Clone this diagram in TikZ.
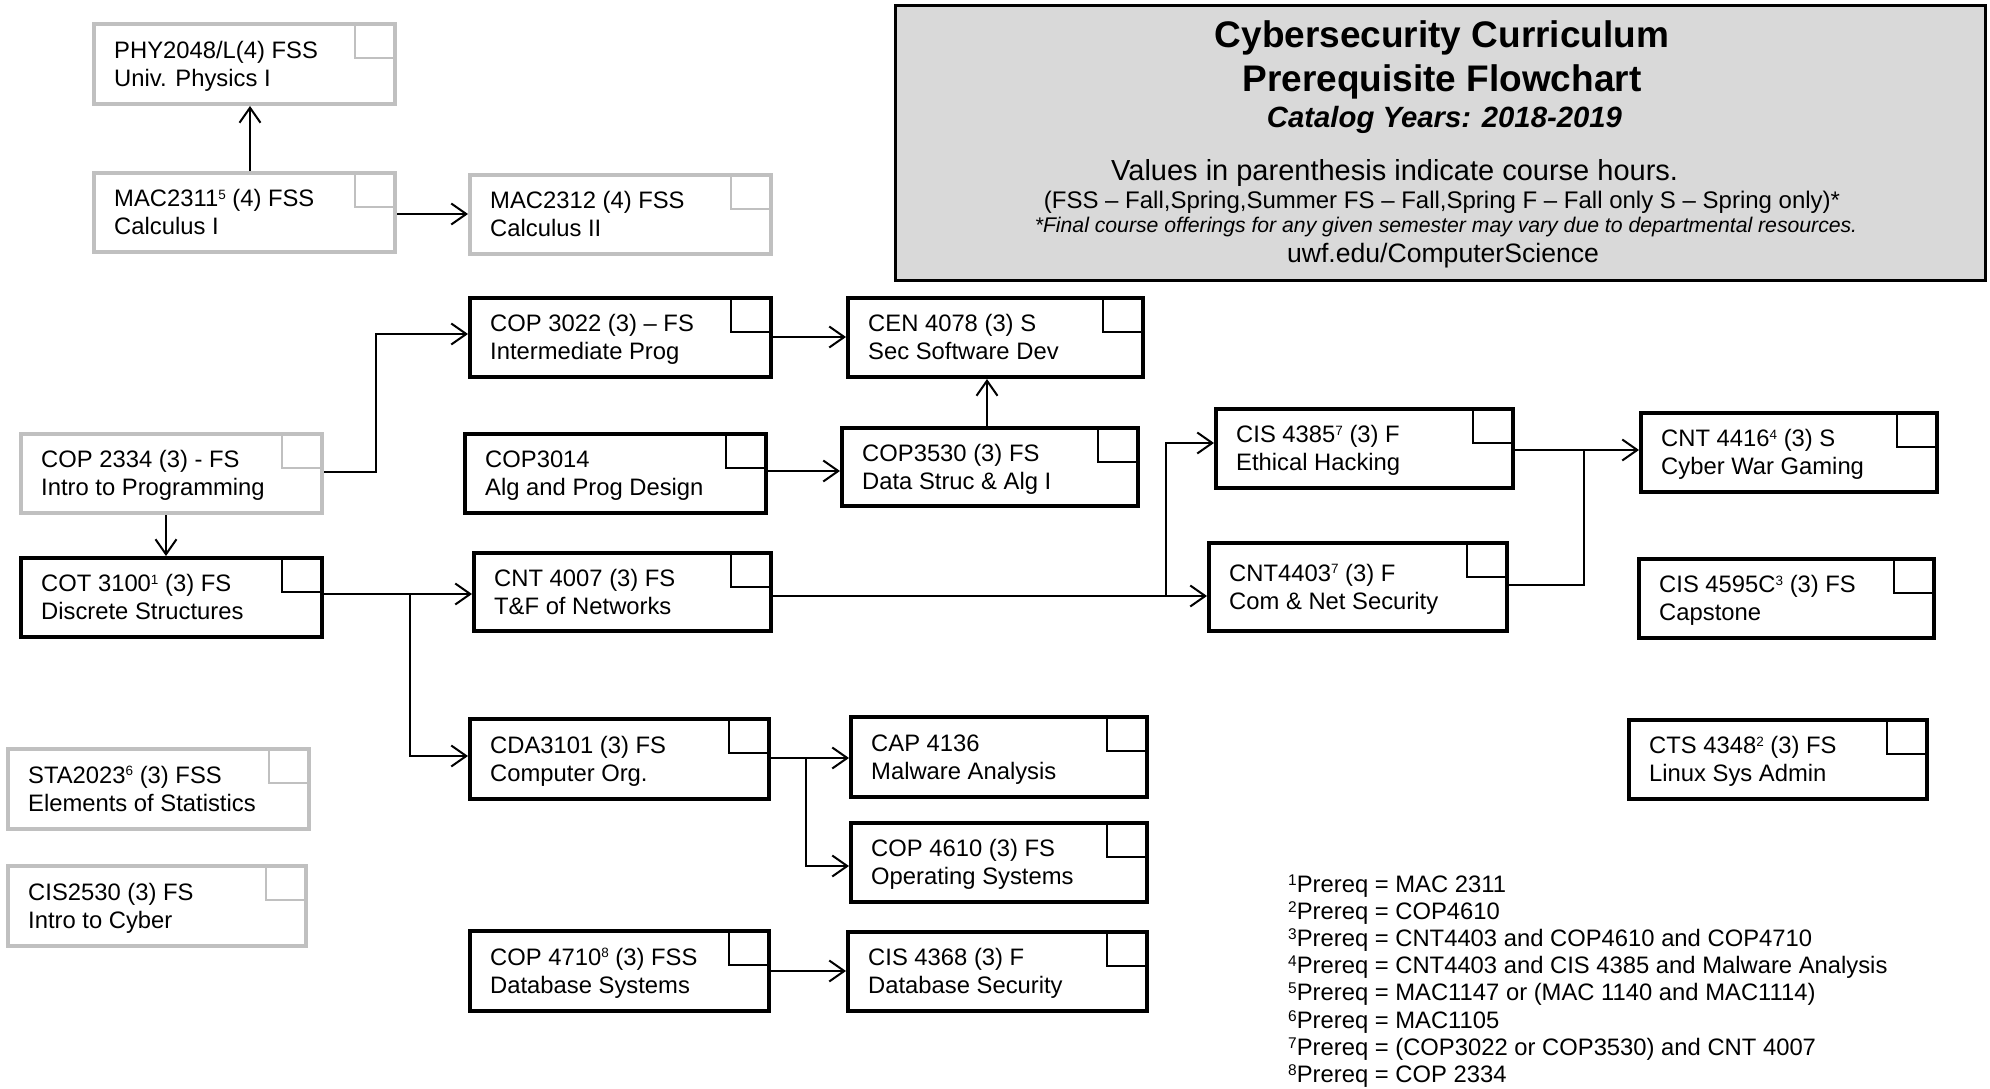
\documentclass[tikz,border=0pt]{standalone}
\usepackage{fontspec}
\setmainfont{Liberation Sans}
\usetikzlibrary{arrows.meta}
\definecolor{lgray}{HTML}{C0C0C0}
\definecolor{tgray}{HTML}{D9D9D9}
\newcommand\boxfont{\fontsize{23.8}{28}\selectfont}
\newcommand\twoln[2]{\rule[-5.6pt]{0pt}{28pt}#1\\\rule[-5.6pt]{0pt}{28pt}#2}
\newcommand\sps[1]{\raisebox{7.6pt}{\fontsize{13.5}{14}\selectfont #1}}
\newcommand\fns[1]{\raisebox{7pt}{\fontsize{15.5}{16}\selectfont #1}}
\tikzset{
  cbox/.style={rectangle, fill=white, line width=4pt, inner sep=0pt},
  txt/.style={anchor=west, align=left, inner sep=0pt, font=\boxfont},
  sq/.style={line width=1.6pt},
  arr/.style={line width=2pt, -{Straight Barb[length=15pt, width=21pt]}},
  ln/.style={line width=2pt},
  note/.style={anchor=base west, inner sep=0pt, font=\boxfont},
  ttl/.style={anchor=base, inner sep=0pt},
}
\newcommand\course[7]{%
  \node[cbox, draw=#1, minimum width=#5pt, minimum height=#6pt] (#2) at (#3,#4) {};
  \draw[sq, draw=#1] ([shift={(-2pt,-2pt)}]#2.north east) rectangle ++(-40,34);
  \node[txt] (#2t) at ([xshift=22pt]#2.west) {#7};
}
\begin{document}
\begin{tikzpicture}[x=1pt,y=-1pt]
\useasboundingbox (0,0) rectangle (1990,1089);
\fill[white] (0,0) rectangle (1990,1089);

% title box
\node[draw=black, fill=tgray, line width=3pt, minimum width=1090pt, minimum height=275pt, inner sep=0pt] (title) at (1440.5,143) {};
\node[ttl, font={\fontsize{37}{42}\selectfont\bfseries}] (t1) at (1442,48) {Cybersecurity Curriculum};
\node[ttl, font={\fontsize{37}{42}\selectfont\bfseries}] (t2) at (1442,92) {Prerequisite Flowchart};
\node[ttl, font={\fontsize{29.3}{34}\selectfont\bfseries\itshape}] (t3) at (1444.5,128) {Catalog Years: 2018-2019};
\node[anchor=base west, inner sep=0pt, font={\fontsize{29}{34}\selectfont}] (t4) at (1111,180) {Values in parenthesis indicate course hours.};
\node[ttl, font={\fontsize{24}{28}\selectfont}] (t5) at (1442,208) {(FSS – Fall,Spring,Summer FS – Fall,Spring F – Fall only S – Spring only)*};
\node[ttl, font={\fontsize{21.2}{25}\selectfont\itshape}] (t6) at (1446,232) {*Final course offerings for any given semester may vary due to departmental resources.};
\node[ttl, font={\fontsize{26.6}{31}\selectfont}] (t7) at (1443,262) {uwf.edu/ComputerScience};

% gray boxes
\course{lgray}{phy}{244.5}{64}{301}{80}{\twoln{PHY2048/L(4) FSS}{Univ. Physics I}}
\course{lgray}{mac1}{244.5}{212.5}{301}{79}{\twoln{MAC2311\sps{5} (4) FSS}{Calculus I}}
\course{lgray}{mac2}{620.5}{214.5}{301}{79}{\twoln{MAC2312 (4) FSS}{Calculus II}}
\course{lgray}{cop2334}{171.5}{473.5}{301}{79}{\twoln{COP 2334 (3) - FS}{Intro to Programming}}
\course{lgray}{sta}{158.5}{789}{301}{80}{\twoln{STA2023\sps{6} (3) FSS}{Elements of Statistics}}
\course{lgray}{cis2530}{157}{906}{298}{80}{\twoln{CIS2530 (3) FS}{Intro to Cyber}}

% black boxes
\course{black}{cop3022}{620.5}{337.5}{301}{79}{\twoln{COP 3022 (3) – FS}{Intermediate Prog}}
\course{black}{cen}{995.5}{337.5}{295}{79}{\twoln{CEN 4078 (3) S}{Sec Software Dev}}
\course{black}{cop3014}{615.5}{473.5}{301}{79}{\twoln{COP3014}{Alg and Prog Design}}
\course{black}{cop3530}{990}{467}{296}{78}{\twoln{COP3530 (3) FS}{Data Struc \& Alg I}}
\course{black}{cis4385}{1364.5}{448.5}{297}{79}{\twoln{CIS 4385\sps{7} (3) F}{Ethical Hacking}}
\course{black}{cnt4416}{1789}{452.5}{296}{79}{\twoln{CNT 4416\sps{4} (3) S}{Cyber War Gaming}}
\course{black}{cot3100}{171.5}{597.5}{301}{79}{\twoln{COT 3100\sps{1} (3) FS}{Discrete Structures}}
\course{black}{cnt4007}{622.5}{592}{297}{78}{\twoln{CNT 4007 (3) FS}{T\&F of Networks}}
\course{black}{cnt4403}{1358}{587}{298}{88}{\twoln{CNT4403\sps{7} (3) F}{Com \& Net Security}}
\course{black}{cis4595}{1786.5}{598.5}{295}{79}{\twoln{CIS 4595C\sps{3} (3) FS}{Capstone}}
\course{black}{cda}{619.5}{759}{299}{80}{\twoln{CDA3101 (3) FS}{Computer Org.}}
\course{black}{cap}{999}{757}{296}{80}{\twoln{CAP 4136}{Malware Analysis}}
\course{black}{cts}{1778}{759.5}{298}{79}{\twoln{CTS 4348\sps{2} (3) FS}{Linux Sys Admin}}
\course{black}{cop4610}{999}{862.5}{296}{79}{\twoln{COP 4610 (3) FS}{Operating Systems}}
\course{black}{cop4710}{619.5}{971}{299}{80}{\twoln{COP 4710\sps{8} (3) FSS}{Database Systems}}
\course{black}{cis4368}{997.5}{971.5}{299}{79}{\twoln{CIS 4368 (3) F}{Database Security}}

% junction coordinates
\coordinate (j1) at (376,334);
\coordinate (j2) at (410,594);
\coordinate (j3) at (1166,596);
\coordinate (j4) at (1584,450);
\coordinate (j5) at (806,758);

% connectors
\draw[arr] ([xshift=5.5pt]mac1.north) -- ([xshift=5.5pt]phy.south);
\draw[arr] (mac1.east |- 0,214) -- (mac2.west |- 0,214);
\draw[arr] (cop2334.east |- 0,472) -| (j1) -- (cop3022.west |- j1);
\draw[arr] ([xshift=-5.5pt]cop2334.south) -- ([xshift=-5.5pt]cot3100.north);
\draw[arr] (cot3100.east |- 0,594) -- (cnt4007.west |- 0,594);
\draw[arr] (j2) |- (cda.west |- 0,756);
\draw[arr] (cop3022.east |- 0,337) -- (cen.west |- 0,337);
\draw[arr] (cop3014.east |- 0,471) -- (cop3530.west |- 0,471);
\draw[arr] (cop3530.north -| 987,0) -- (cen.south -| 987,0);
\draw[arr] (cnt4007.east |- 0,596) -- (cnt4403.west |- 0,596);
\draw[arr] (j3) |- (cis4385.west |- 0,443);
\draw[arr] (cis4385.east |- 0,450) -- (cnt4416.west |- 0,450);
\draw[ln] (cnt4403.east |- 0,585) -| (j4);
\draw[arr] (cda.east |- 0,758) -- (cap.west |- 0,758);
\draw[arr] (j5) |- (cop4610.west |- 0,866);
\draw[arr] (cop4710.east |- 0,971) -- (cis4368.west |- 0,971);

% footnotes
\node[note] (n1) at (1288,892) {\fns{1}Prereq = MAC 2311};
\node[note] (n2) at (1288,919.2) {\fns{2}Prereq = COP4610};
\node[note] (n3) at (1288,946.4) {\fns{3}Prereq = CNT4403 and COP4610 and COP4710};
\node[note] (n4) at (1288,973.6) {\fns{4}Prereq = CNT4403 and CIS 4385 and Malware Analysis};
\node[note] (n5) at (1288,1000.8) {\fns{5}Prereq = MAC1147 or (MAC 1140 and MAC1114)};
\node[note] (n6) at (1288,1028) {\fns{6}Prereq = MAC1105};
\node[note] (n7) at (1288,1055.2) {\fns{7}Prereq = (COP3022 or COP3530) and CNT 4007};
\node[note] (n8) at (1288,1082.4) {\fns{8}Prereq = COP 2334};
\end{tikzpicture}
\end{document}
